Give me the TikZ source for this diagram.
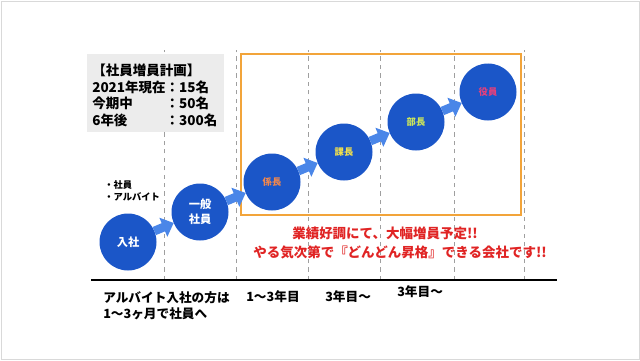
\documentclass[tikz,border=0pt]{standalone}
\usepackage{fontspec}
\setmainfont{Noto Sans CJK JP}
\usepackage{tikz}
\usetikzlibrary{positioning, arrows.meta}

\definecolor{rankblue}{HTML}{1B56C8}
\definecolor{arrowblue}{HTML}{4A86E8}
\definecolor{frameorange}{HTML}{F2A43A}
\definecolor{hirered}{HTML}{E02424}
\definecolor{kakaritxt}{HTML}{F0874E}
\definecolor{kachotxt}{HTML}{F2E04C}
\definecolor{buchotxt}{HTML}{CDE65A}
\definecolor{yakuintxt}{HTML}{E8407A}

\begin{document}
\begin{tikzpicture}[node distance=0.75cm and 1.8cm, on grid,
    rank/.style={circle, fill=rankblue, minimum size=1.425cm, inner sep=0pt, outer sep=0pt,
                 align=center, text=white, font=\fontsize{8}{10.6}\selectfont\bfseries},
    post/.style={rank, font=\fontsize{6.6}{8}\selectfont\bfseries},
    promo/.style={arrowblue, line width=0.22cm, -{Triangle[width=0.5cm,length=0.28cm]}},
    guide/.style={gray!75, dashed, thin},
    lbl/.style={anchor=west, inner sep=0pt, font=\fontsize{9}{11}\selectfont\bfseries},
    hire/.style={inner sep=0pt, text=hirered, font=\fontsize{9.6}{12}\selectfont\bfseries}]

    \useasboundingbox (0,0) rectangle (16,9);
    \draw[gray!30] (0.02,0.02) rectangle (15.98,8.98);

    \foreach \x in {4.1,5.9,7.7,9.5,11.35,13.1}
        \draw[guide] (\x,2) -- (\x,7.75);

    \fill[gray!15] (2.175,5.7) rectangle (5.6,7.65);
    \node[anchor=base west, inner sep=0pt, font=\fontsize{9.6}{11.3}\selectfont\bfseries] (plan) at (2.3,7.1)
        {\begin{tabular}[t]{@{}l@{}l@{}}
            \multicolumn{2}{@{}l@{}}{【社員増員計画】}\\
            2021年現在&：15名\\
            今期中&：50名\\
            6年後&：300名
         \end{tabular}};

    \draw[frameorange, line width=1.3pt] (6.025,3.625) rectangle (13.025,7.65);
    \draw[line width=2pt] (2.275,2) -- (13.925,2);

    \node[lbl, align=left, font=\fontsize{6.6}{8.5}\selectfont\bfseries] (kinds) at (2.6,4.225) {・社員\\・アルバイト};

    \node[rank] (nyusha) at (3.2,2.95) {入社};
    \node[rank, above right=of nyusha] (ippan) {一般\\社員};
    \node[post, above right=of ippan, text=kakaritxt] (kakaricho) {係長};
    \node[post, above right=of kakaricho, text=kachotxt] (kacho) {課長};
    \node[post, above right=of kacho, text=buchotxt] (bucho) {部長};
    \node[post, above right=of bucho, text=yakuintxt] (yakuin) {役員};

    \path (nyusha) edge[promo] (ippan)
          (ippan) edge[promo] (kakaricho)
          (kakaricho) edge[promo] (kacho)
          (kacho) edge[promo] (bucho)
          (bucho) edge[promo] (yakuin);

    \node[hire] (growth) at (9.625,3.175) {業績好調にて、大幅増員予定!!};
    \node[hire] (chance) at (10.0,2.7) {やる気次第で『どんどん昇格』できる会社です!!};

    \node[lbl] (baito1) at (2.575,1.55) {アルバイト入社の方は};
    \node[lbl] (baito2) at (2.575,1.15) {1〜3ヶ月で社員へ};
    \node[lbl] (span1) at (6.15,1.575) {1〜3年目};
    \node[lbl] (span2) at (8.125,1.575) {3年目〜};
    \node[lbl] (span3) at (9.925,1.7) {3年目〜};
\end{tikzpicture}
\end{document}
